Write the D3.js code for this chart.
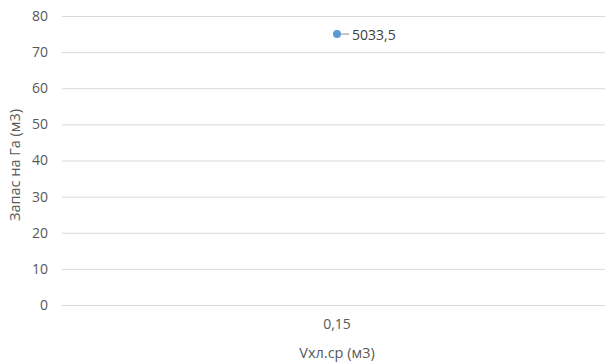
<!DOCTYPE html>
<html>
<head>
<meta charset="utf-8">
<script src="https://cdn.jsdelivr.net/npm/d3@7"></script>
<style>
  html, body { margin: 0; padding: 0; background: #fff; }
  svg { display: block; }
  text { font-family: "Open Sans", "Noto Sans", sans-serif; fill: #595959; }
</style>
</head>
<body>
<svg id="chart" width="605" height="363"></svg>
<script>
// Chart data
const categories = ["0,15"];
const values = [75];
const pointLabels = ["5033,5"];
const yTicks = [0, 10, 20, 30, 40, 50, 60, 70, 80];
const yTitle = "Запас на Га (м3)";
const xTitle = "Vхл.ср (м3)";

(function () {
  const svg = d3.select("#chart");
  const plotLeft = 62, plotRight = 612, plotTop = 16, plotBottom = 305;
  const font = "'Open Sans', sans-serif";

  const x = d3.scaleBand().domain(categories).range([plotLeft, plotRight]);
  const y = d3.scaleLinear().domain([0, 80]).range([plotBottom, plotTop]);

  // Horizontal gridlines
  svg.append("g")
    .attr("transform", `translate(${plotLeft},0)`)
    .call(d3.axisLeft(y).tickValues(yTicks).tickSize(-(plotRight - plotLeft)).tickFormat(""))
    .call(g => g.select(".domain").remove())
    .call(g => g.selectAll("line").attr("stroke", "#d9d9d9").attr("stroke-width", 1));

  // Y tick labels
  svg.append("g")
    .attr("transform", `translate(${plotLeft},0)`)
    .call(d3.axisLeft(y).tickValues(yTicks).tickSize(0).tickPadding(14))
    .call(g => g.select(".domain").remove())
    .call(g => g.selectAll("text").style("font-size", "14px").style("font-family", font).attr("fill", "#595959"));

  // X tick labels
  svg.append("g")
    .attr("transform", `translate(0,${plotBottom})`)
    .call(d3.axisBottom(x).tickSize(0).tickPadding(14))
    .call(g => g.select(".domain").remove())
    .call(g => g.selectAll("text").style("font-size", "14px").style("font-family", font).attr("fill", "#595959"));

  // Axis titles
  svg.append("text")
    .attr("x", x(categories[0]) + x.bandwidth() / 2)
    .attr("y", 358)
    .attr("text-anchor", "middle")
    .style("font-size", "14.5px")
    .text(xTitle);

  svg.append("text")
    .attr("transform", "translate(20,165) rotate(-90)")
    .attr("text-anchor", "middle")
    .style("font-size", "14.5px")
    .text(yTitle);

  // Points with leader lines and labels
  const pts = svg.append("g").selectAll("g")
    .data(categories.map((c, i) => ({ c, v: values[i], label: pointLabels[i] })))
    .join("g")
    .attr("transform", d => `translate(${x(d.c) + x.bandwidth() / 2},${y(d.v)})`);

  pts.append("line")
    .attr("x1", 4).attr("x2", 12).attr("y1", 0).attr("y2", 0)
    .attr("stroke", "#8c8c8c").attr("stroke-width", 1);

  pts.append("circle")
    .attr("r", 4)
    .attr("fill", "#5b9bd5");

  pts.append("text")
    .attr("x", 15)
    .attr("y", 1)
    .attr("dy", "0.36em")
    .style("font-size", "14px")
    .style("fill", "#404040")
    .text(d => d.label);
})();
</script>
</body>
</html>
